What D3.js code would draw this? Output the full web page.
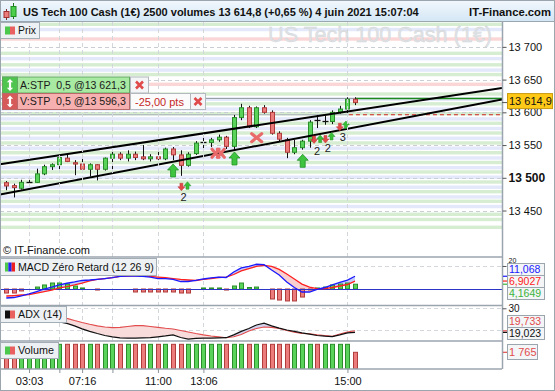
<!DOCTYPE html>
<html><head><meta charset="utf-8">
<script src="https://cdn.jsdelivr.net/npm/d3@7/dist/d3.min.js"></script>
<style>html,body{margin:0;padding:0;background:#fff;overflow:hidden}svg{display:block}</style>
</head><body>
<svg id="chart" width="555" height="391" font-family="'Liberation Sans', Arial, sans-serif"></svg>
<script>
// ---------------- DATA ----------------
const candleOpen  = [13492.5,13488,13484,13493,13493,13506,13517,13520,13530,13523,13521,13513,13520,13513,13530,13536,13530,13536,13532,13529,13532,13529,13544,13535,13519,13537,13554,13554,13558,13562,13548,13592,13607,13578,13607,13600,13568,13558,13539,13546,13556,13588.5,13586,13586,13600,13605,13620];
const candleClose = [13487.5,13485,13493,13494,13506,13517,13520,13531,13525,13521,13513,13520,13513,13530,13536,13530,13536,13531,13529,13532,13529,13544,13535,13519,13536,13553,13555,13558,13562,13548,13592,13607,13578,13607,13600,13568,13559,13539,13546,13556,13585,13588,13587,13600,13605,13620,13614.9];
const candleHigh  = [13495,13491,13497,13497,13514,13520,13522,13535,13535,13527,13535,13522,13521,13531,13542,13539,13542,13540,13550,13536,13542,13546,13547,13542,13539,13556,13561,13561,13566,13564,13596,13613,13610,13609,13611,13603,13571,13561,13558,13558,13588,13596,13595,13603,13610,13623,13623];
const candleLow   = [13481,13470,13482,13490,13492,13504,13512,13513,13524,13504,13512,13502,13496,13511,13508,13527,13525,13527,13527,13525,13527,13527,13527,13503,13517,13535,13545,13547,13555,13544,13542,13588,13576,13576,13598,13566,13555,13530,13536,13543,13546,13576,13581,13582,13598,13595,13611];
const volumes     = [2610,2610,2610,2610,2610,2610,2610,2610,2610,2610,2610,2610,2610,2610,2610,2610,2610,2610,2610,2610,2610,2610,2610,2610,2610,2610,2610,2610,2610,2610,2610,2610,2610,2610,2610,2610,2610,2610,2610,2610,2610,2610,2610,2610,2610,2610,1765];
const macdLine    = [-7.8,-7.4,-6,-4.3,-2.2,0,1.7,3.5,5,6.1,7.4,7.8,8.4,9.1,9.8,10.9,11.3,11.3,10.9,10.4,9.1,9.1,8.3,6.5,6.5,7.4,8.7,9.6,10.4,10,14.8,18.3,19.7,21.5,21.1,16.5,12.2,6.1,1.3,-2.6,-2.6,-0.4,1.3,3.5,5.7,7.8,11.068];
const macdSignal  = [-6.1,-5.7,-5.2,-4.8,-3.5,-2.2,-0.9,0.9,2,3.5,5.2,7,8.3,9.1,9.8,10.9,11.3,11.6,11.3,11,10.4,9.8,9.1,8.3,7.8,7.4,8.3,9.1,10,10.4,12.6,15.7,17.8,19.7,20.6,19.6,17,13,8.7,4.3,1.7,0.3,0.3,1.3,2.6,3.9,6.9027];
const macdHist    = [-3.5,-3.5,-1.7,0,1.7,3.5,5.2,5.2,4.3,2.6,0.9,0,-0.9,0,0,0,0,-2.6,-2.6,-2.6,-2.6,-2.6,-2.6,-3.5,-3.5,0,0.9,0.9,0.9,-0.9,2.6,5.2,1.3,1.7,0,-8.7,-9.6,-10.4,-10.4,-7,-0.9,0.9,1.7,3.5,4.3,5.2,4.1649];
const adxLine     = [29,28.3,27.5,26.8,26,25.3,24.6,23.8,23.1,22,20.6,19.5,18.5,17.6,17,16.5,16.4,16.4,16.5,16.6,17,17.4,17.9,16.7,16,16.3,16.4,16.4,16.5,16.6,17.9,19.5,20.8,22.4,23.2,22,21,20.1,19.5,18.8,18.2,17.6,17.3,17.1,17.9,18.8,19.023];
const adxRed      = [30.5,30,29.5,29,28.4,27.8,27.2,26.5,25.4,24.4,23.5,22.7,22,21.5,21.2,21.3,21.7,22.1,22.1,21.7,21.3,20.9,20.6,19.9,19.2,18.5,17.9,17.4,17,16.6,17,18.1,19.7,20.8,21.5,21.3,20.8,19.9,19.1,18.5,18.4,17.9,17.6,17.2,18.3,19.2,19.733];

const priceTicks  = [13700,13650,13600,13550,13500,13450];
const timeTicks   = [3,7,10,14,20,26,45];
const timeLabels  = ['03:03','','07:16','','11:00','13:06','15:00'];

// background levels (price bands)
const greenLevels = [13734.5,13690.2,13672.6,13657.7,13628,13613,13598,13583.3,13568.4,13553.2,13538.3,13523.4,13508.9,13493.6,13478.8,13464.1,13444.2,13436.3,13424.4];
const blueLevels  = [13726.5,13682,13664.5,13620,13605,13590,13575.3,13560.4,13545.2,13530.3,13515.4,13500.9,13485.6,13470.8,13456.1];
const pinkLevels  = [13712,13642.8];

// trend lines [index, price]
const trendUpper = [[-0.83,13520.6],[65.39,13637.2]];
const trendLower = [[-0.83,13474.5],[65.39,13619.6]];

const orderBuy = 13621.3, orderSell = 13596.3, lastPrice = 13614.9;

const bigUpArrows  = [{i:22,p:13521.1},{i:30.1,p:13539.4},{i:39.1,p:13535.9}];
const bigCrosses   = [{i:27.6,p:13537.4,s:3.5},{i:28.3,p:13537.4,s:3.5},{i:33.03,p:13561.3,s:5}];
const smallDown    = [{i:23.1,p:13491.6},{i:40.6,p:13563.9},{i:42.1,p:13564.6},{i:44,p:13583.3}];
const smallUp      = [{i:23.9,p:13494},{i:41.4,p:13565.4},{i:42.9,p:13569.2},{i:44.8,p:13586.8}];
const signalCounts = [{i:23.4,p:13470.2,t:'2'},{i:41,p:13541.4,t:'2'},{i:42.4,p:13546,t:'2'},{i:44.4,p:13561.9,t:'3'}];

// ---------------- SETUP ----------------
const FONT = "'Liberation Sans', Arial, sans-serif";
const svg = d3.select('#chart');
const PR = 502;
const x  = d3.scaleLinear().domain([-0.83,65.39]).range([0,PR]);
const yP = d3.scaleLinear().domain([13379,13738]).range([257,22]);
const yM = d3.scaleLinear().domain([-13.9,27.8]).range([305,257]);
const yA = d3.scaleLinear().domain([15.1,31.5]).range([341,305]);
const yV = d3.scaleLinear().domain([0,2960]).range([369,341]);
const idx = d3.range(candleOpen.length);
const fmtSp = v => d3.format(',')(v).replace(/,/g,' ');
const GREEN_F='#5ad35a', GREEN_S='#2a8f2a', RED_F='#ec7b7b', RED_S='#b03c3c';
function fit(sel, target, base){ const w = sel.node().getComputedTextLength(); sel.attr('font-size', base*target/w); }

const defs = svg.append('defs');
const hg = defs.append('linearGradient').attr('id','hdr').attr('x1',0).attr('y1',0).attr('x2',0).attr('y2',1);
hg.append('stop').attr('offset','0%').attr('stop-color','#f2f8fd');
hg.append('stop').attr('offset','100%').attr('stop-color','#d3e6f4');
function clip(id,y0,y1){defs.append('clipPath').attr('id',id).append('rect').attr('x',0).attr('y',y0).attr('width',PR).attr('height',y1-y0);}
clip('cMain',22,257); clip('cMacd',257,305); clip('cAdx',305,341); clip('cVol',341,369);

svg.append('rect').attr('width',555).attr('height',391).attr('fill','#fff');

// ---------------- HEADER ----------------
svg.append('rect').attr('x',0).attr('y',0).attr('width',555).attr('height',22).attr('fill','url(#hdr)');
svg.append('line').attr('x1',0).attr('x2',555).attr('y1',21.5).attr('y2',21.5).attr('stroke','#9aa6b0');
const hi = svg.append('g');
hi.append('line').attr('x1',6.5).attr('x2',6.5).attr('y1',9).attr('y2',20).attr('stroke','#7a2a2a');
hi.append('rect').attr('x',4).attr('y',11.5).attr('width',5).attr('height',6).attr('fill',RED_F).attr('stroke','#a03030');
hi.append('line').attr('x1',13.5).attr('x2',13.5).attr('y1',3).attr('y2',19).attr('stroke','#1f6f1f');
hi.append('rect').attr('x',11).attr('y',6.5).attr('width',5).attr('height',10).attr('fill','#4ccf4c').attr('stroke','#1f8f1f');
const title = svg.append('text').attr('x',23).attr('y',16).attr('font-weight','bold').attr('font-size',12).attr('fill','#111')
  .text('US Tech 100 Cash (1€) 2500 volumes 13 614,8 (+0,65 %) 4 juin 2021 15:07:04');
fit(title,396,12);
const brand = svg.append('text').attr('x',551).attr('y',16).attr('text-anchor','end').attr('font-weight','bold').attr('font-size',12).attr('fill','#111').text('IT-Finance.com');
fit(brand,82,12);

// ---------------- MAIN PANEL ----------------
const gm = svg.append('g').attr('clip-path','url(#cMain)');
function band(levels,color){
  gm.append('g').selectAll('rect').data(levels).join('rect')
    .attr('x',0).attr('width',PR).attr('y',d=>yP(d+2.6)).attr('height',d=>yP(d-2.6)-yP(d+2.6)).attr('fill',color);
}
band(greenLevels,'#d6edd2'); band(blueLevels,'#e3e9fa'); band(pinkLevels,'#fbd6d6');
gm.append('g').selectAll('line').data(priceTicks).join('line')
  .attr('x1',0).attr('x2',PR).attr('y1',d=>Math.round(yP(d))+0.5).attr('y2',d=>Math.round(yP(d))+0.5)
  .attr('stroke','#c9ced3').attr('stroke-dasharray','4,3');
const wm = gm.append('text').attr('x',492).attr('y',42).attr('text-anchor','end').attr('font-size',21)
  .attr('fill','#dfe2e5').attr('stroke','#d2d6da').attr('stroke-width',0.4).text('US Tech 100 Cash (1€)');
fit(wm,224,21);

// vertical grid through all panels
svg.append('g').selectAll('line').data(timeTicks).join('line')
  .attr('x1',d=>Math.round(x(d))+0.5).attr('x2',d=>Math.round(x(d))+0.5).attr('y1',22).attr('y2',369)
  .attr('stroke','#d3d7db').attr('stroke-dasharray','4,3');

// order level lines
gm.append('line').attr('x1',0).attr('x2',PR).attr('y1',yP(orderBuy)).attr('y2',yP(orderBuy)).attr('stroke','#8e969d').attr('stroke-width',1);
gm.append('line').attr('x1',0).attr('x2',x(45.2)).attr('y1',yP(orderSell)).attr('y2',yP(orderSell)).attr('stroke','#a9b0b6').attr('stroke-width',1);
gm.append('line').attr('x1',x(46)).attr('x2',PR).attr('y1',yP(orderBuy)).attr('y2',yP(orderBuy)).attr('stroke','#1d8a1d').attr('stroke-width',1.5);
gm.append('line').attr('x1',x(45.2)).attr('x2',PR).attr('y1',yP(orderSell)).attr('y2',yP(orderSell)).attr('stroke','#d02020').attr('stroke-width',1.2).attr('stroke-dasharray','4,3');

// candles
const cg = gm.append('g');
idx.forEach(i=>{
  const o=candleOpen[i], c=candleClose[i], cx=Math.round(x(i))+0.5;
  cg.append('line').attr('x1',cx).attr('x2',cx).attr('y1',yP(candleHigh[i])).attr('y2',yP(candleLow[i])).attr('stroke','#111');
  const top=yP(Math.max(o,c)), bot=yP(Math.min(o,c));
  if (bot-top < 1.2) {
    cg.append('line').attr('x1',cx-3).attr('x2',cx+3).attr('y1',Math.round((top+bot)/2)+0.5).attr('y2',Math.round((top+bot)/2)+0.5).attr('stroke','#111').attr('stroke-width',1.3);
  } else {
    const up = c>=o;
    cg.append('rect').attr('x',cx-2).attr('width',4).attr('y',top).attr('height',bot-top)
      .attr('fill',up?GREEN_F:RED_F).attr('stroke',up?GREEN_S:RED_S).attr('stroke-width',1);
  }
});

// trend lines
const tl = d3.line().x(d=>x(d[0])).y(d=>yP(d[1]));
gm.append('path').attr('d',tl(trendUpper)).attr('stroke','#000').attr('stroke-width',2).attr('fill','none');
gm.append('path').attr('d',tl(trendLower)).attr('stroke','#000').attr('stroke-width',2).attr('fill','none');

// markers
gm.append('g').selectAll('path').data(bigUpArrows).join('path')
  .attr('transform',d=>`translate(${x(d.i)},${yP(d.p)})`)
  .attr('d','M0,0L5.5,6L2.5,6L2.5,13L-2.5,13L-2.5,6L-5.5,6Z')
  .attr('fill','#3fc43f').attr('stroke','#23932a').attr('stroke-width',0.8);
bigCrosses.forEach(d=>{
  const g=gm.append('g').attr('transform',`translate(${x(d.i)},${yP(d.p)})`);
  g.append('path').attr('d',`M${-d.s},${-4}L${d.s},4M${d.s},${-4}L${-d.s},4`).attr('stroke','#e86a6a').attr('stroke-width',3.2).attr('stroke-linecap','round');
});
gm.append('g').selectAll('path').data(smallDown).join('path')
  .attr('transform',d=>`translate(${x(d.i)},${yP(d.p)})`)
  .attr('d','M-1.5,0L1.5,0L1.5,3.5L3.5,3.5L0,7.5L-3.5,3.5L-1.5,3.5Z').attr('fill','#e24a4a').attr('stroke','#c03434').attr('stroke-width',0.5);
gm.append('g').selectAll('path').data(smallUp).join('path')
  .attr('transform',d=>`translate(${x(d.i)},${yP(d.p)})`)
  .attr('d','M0,0L3.5,4L1.5,4L1.5,7.5L-1.5,7.5L-1.5,4L-3.5,4Z').attr('fill','#38c038').attr('stroke','#239323').attr('stroke-width',0.5);
gm.append('g').selectAll('text').data(signalCounts).join('text')
  .attr('x',d=>x(d.i)).attr('y',d=>yP(d.p)).attr('dy','0.35em').attr('text-anchor','middle')
  .attr('font-size',11).attr('fill','#222').text(d=>d.t);

// order boxes
function orderBox(y,h,label,light,dark,stroke){
  const g=svg.append('g');
  g.append('rect').attr('x',2.5).attr('y',y+0.5).attr('width',127).attr('height',h).attr('fill',light).attr('stroke',stroke);
  g.append('rect').attr('x',2.5).attr('y',y+0.5).attr('width',15).attr('height',h).attr('fill',dark).attr('stroke',stroke);
  g.append('path').attr('transform',`translate(10,${y+0.5+h/2})`)
    .attr('d','M0,-6L3.2,-2.8L1.1,-2.8L1.1,2.8L3.2,2.8L0,6L-3.2,2.8L-1.1,2.8L-1.1,-2.8L-3.2,-2.8Z').attr('fill','#fff');
  const t = g.append('text').attr('x',20).attr('y',y+h/2+0.5).attr('dy','0.36em').attr('font-size',11).attr('fill','#1a1a1a')
    .style('white-space','pre').text(label);
  fit(t,106,11);
  return g;
}
function xBtn(x0,y,w,h){
  svg.append('rect').attr('x',x0+0.5).attr('y',y+0.5).attr('width',w).attr('height',h).attr('fill','#f4f5f6').attr('stroke','#b3b9be');
  const cx=x0+0.5+w/2, cy=y+0.5+h/2;
  svg.append('path').attr('d',`M${cx-3.5},${cy-3.5}L${cx+3.5},${cy+3.5}M${cx+3.5},${cy-3.5}L${cx-3.5},${cy+3.5}`)
    .attr('stroke','#e04a4a').attr('stroke-width',2.6);
}
orderBox(76.5,16,'A:STP  0,5 @13 621,3','#a9eaa3','#4fc44f','#62a862');
xBtn(130,76.5,18,16);
svg.append('rect').attr('x',130.5).attr('y',93.5).attr('width',60).attr('height',16).attr('fill','#fbfbfb').attr('stroke','#b3b9be');
svg.append('text').attr('x',135).attr('y',102).attr('dy','0.36em').attr('font-size',11).attr('fill','#c62828').text('-25,00 pts');
xBtn(190,93,15,16);
orderBox(93,16,'V:STP  0,5 @13 596,3','#f7b0b0','#d65a5a','#b86a6a');

// © text
svg.append('text').attr('x',3).attr('y',254).attr('font-size',11).attr('fill','#111').text('© IT-Finance.com');

// ---------------- MACD ----------------
const gM = svg.append('g').attr('clip-path','url(#cMacd)');
gM.append('line').attr('x1',0).attr('x2',PR).attr('y1',Math.round(yM(20))+0.5).attr('y2',Math.round(yM(20))+0.5).attr('stroke','#d3d7db').attr('stroke-dasharray','4,3');
const mdat = idx.map(i=>({i,m:macdLine[i],s:macdSignal[i]}));
defs.append('clipPath').attr('id','mAbove').append('path').attr('d',d3.area().x(d=>x(d.i)).y0(257).y1(d=>yM(d.s))(mdat));
defs.append('clipPath').attr('id','mBelow').append('path').attr('d',d3.area().x(d=>x(d.i)).y0(305).y1(d=>yM(d.s))(mdat));
const mArea = d3.area().x(d=>x(d.i)).y0(d=>yM(d.s)).y1(d=>yM(d.m));
gM.append('g').attr('clip-path','url(#mAbove)').append('path').attr('d',mArea(mdat)).attr('fill','#c5cbfa');
gM.append('g').attr('clip-path','url(#mBelow)').append('path').attr('d',mArea(mdat)).attr('fill','#f9d0d0');
idx.forEach(i=>{
  const v=macdHist[i]; if (v===0) return;
  const cx=Math.round(x(i))+0.5, y0=yM(0), y1=yM(v);
  gM.append('rect').attr('x',cx-2).attr('width',4).attr('y',Math.min(y0,y1)).attr('height',Math.abs(y1-y0))
    .attr('fill',v>0?GREEN_F:RED_F).attr('stroke',v>0?GREEN_S:RED_S);
});
gM.append('line').attr('x1',0).attr('x2',PR).attr('y1',Math.round(yM(0))+0.5).attr('y2',Math.round(yM(0))+0.5).attr('stroke','#2a35c8').attr('stroke-width',1.2);
gM.append('path').attr('d',d3.line().x(d=>x(d.i)).y(d=>yM(d.s))(mdat)).attr('fill','none').attr('stroke','#ff2020').attr('stroke-width',1.3);
gM.append('path').attr('d',d3.line().x(d=>x(d.i)).y(d=>yM(d.m))(mdat)).attr('fill','none').attr('stroke','#1a1aff').attr('stroke-width',1.3);

// ---------------- ADX ----------------
const gA = svg.append('g').attr('clip-path','url(#cAdx)');
[20,30].forEach(v=>gA.append('line').attr('x1',0).attr('x2',PR).attr('y1',Math.round(yA(v))+0.5).attr('y2',Math.round(yA(v))+0.5).attr('stroke','#d3d7db').attr('stroke-dasharray','4,3'));
const adat = idx.map(i=>({i,a:adxLine[i],r:adxRed[i]}));
defs.append('clipPath').attr('id','aAbove').append('path').attr('d',d3.area().x(d=>x(d.i)).y0(305).y1(d=>yA(d.r))(adat));
defs.append('clipPath').attr('id','aBelow').append('path').attr('d',d3.area().x(d=>x(d.i)).y0(341).y1(d=>yA(d.r))(adat));
const aArea = d3.area().x(d=>x(d.i)).y0(d=>yA(d.r)).y1(d=>yA(d.a));
gA.append('g').attr('clip-path','url(#aAbove)').append('path').attr('d',aArea(adat)).attr('fill','#d3d3ee');
gA.append('g').attr('clip-path','url(#aBelow)').append('path').attr('d',aArea(adat)).attr('fill','#f8dcdc');
gA.append('path').attr('d',d3.line().x(d=>x(d.i)).y(d=>yA(d.r))(adat)).attr('fill','none').attr('stroke','#e24c4c').attr('stroke-width',1.1);
gA.append('path').attr('d',d3.line().x(d=>x(d.i)).y(d=>yA(d.a))(adat)).attr('fill','none').attr('stroke','#111').attr('stroke-width',1.2);

// ---------------- VOLUME ----------------
const gV = svg.append('g').attr('clip-path','url(#cVol)');
idx.forEach(i=>{
  const up = candleClose[i]>=candleOpen[i], cx=Math.round(x(i))+0.5;
  gV.append('rect').attr('x',cx-2).attr('width',4).attr('y',yV(volumes[i])).attr('height',yV(0)-yV(volumes[i]))
    .attr('fill',up?GREEN_F:RED_F).attr('stroke',up?GREEN_S:RED_S);
});

// ---------------- SEPARATORS / BORDERS ----------------
[257,305.5,341,369].forEach(y=>svg.append('line').attr('x1',0).attr('x2',PR).attr('y1',y).attr('y2',y).attr('stroke','#9ba5ae').attr('stroke-width',1.5));
svg.append('line').attr('x1',PR+0.5).attr('x2',PR+0.5).attr('y1',22).attr('y2',369).attr('stroke','#9ba5ae').attr('stroke-width',1.5);
svg.append('rect').attr('x',0.5).attr('y',0.5).attr('width',554).attr('height',390).attr('fill','none').attr('stroke','#9ba5ae');

// ---------------- AXES ----------------
const ax = svg.append('g').attr('transform',`translate(${PR+0.5},0)`)
  .call(d3.axisRight(yP).tickValues(priceTicks).tickSize(4).tickPadding(2).tickFormat(fmtSp));
ax.select('.domain').remove();
ax.selectAll('text').attr('font-family',FONT).attr('fill','#111')
  .attr('font-weight',d=>d===13500?'bold':'normal').attr('font-size',d=>d===13500?12:11);
ax.selectAll('line').attr('stroke','#555');

const tx = svg.append('g').attr('transform','translate(0,369)')
  .call(d3.axisBottom(x).tickValues(timeTicks).tickSize(4).tickPadding(4).tickFormat((d,k)=>timeLabels[k]));
tx.select('.domain').remove();
tx.selectAll('text').attr('font-size',11).attr('font-family',FONT).attr('fill','#111');
tx.selectAll('line').attr('stroke','#8a939b');

// current price
svg.append('line').attr('x1',PR).attr('x2',PR+5).attr('y1',yP(lastPrice)).attr('y2',yP(lastPrice)).attr('stroke','#555');
svg.append('rect').attr('x',507.5).attr('y',yP(lastPrice)-9).attr('width',45).attr('height',15).attr('fill','#ffc917').attr('stroke','#c99a10');
svg.append('text').attr('x',509).attr('y',yP(lastPrice)-1.5).attr('dy','0.36em').attr('font-size',11).attr('fill','#111').text('13 614,9');

// MACD right labels
const mAx = svg.append('g').attr('transform',`translate(${PR+0.5},0)`)
  .call(d3.axisRight(yM).tickValues([20]).tickSize(4).tickPadding(2));
mAx.select('.domain').remove();
mAx.selectAll('text').attr('font-size',7).attr('font-family',FONT).attr('fill','#111')
  .attr('dy',null).attr('y',0).attr('transform',`translate(0,${263 - yM(20) - 0.5})`);
mAx.selectAll('line').attr('stroke','#555');
function valBox(v,scale,text,color,y,h){
  svg.append('line').attr('x1',PR+1).attr('x2',PR+5).attr('y1',scale(v)).attr('y2',scale(v)).attr('stroke',color).attr('stroke-width',1.2);
  svg.append('rect').attr('x',507.5).attr('y',y).attr('width',37).attr('height',h).attr('fill','#f3f5f7').attr('stroke','#9ba5ae');
  svg.append('text').attr('x',509).attr('y',y+h/2).attr('dy','0.35em').attr('font-size',10.5).attr('fill',color).text(text);
}
valBox(macdLine[46],yM,'11,068','#1a1aff',263.5,12);
valBox(macdSignal[46],yM,'6,9027','#ff2020',275.5,12);
valBox(macdHist[46],yM,'4,1649','#3bb33b',287.5,12);

// ADX right labels
const aAx = svg.append('g').attr('transform',`translate(${PR+0.5},0)`)
  .call(d3.axisRight(yA).tickValues([30]).tickSize(4).tickPadding(2));
aAx.select('.domain').remove();
aAx.selectAll('text').attr('font-size',10).attr('font-family',FONT).attr('fill','#111').attr('dy','0.3em');
aAx.selectAll('line').attr('stroke','#555');
valBox(adxRed[46],yA,'19,733','#e24c4c',315.5,12);
valBox(adxLine[46],yA,'19,023','#111',327.5,12);

// Volume label
svg.append('line').attr('x1',PR+1).attr('x2',PR+5).attr('y1',yV(volumes[46])).attr('y2',yV(volumes[46])).attr('stroke','#e24c4c').attr('stroke-width',1.2);
svg.append('rect').attr('x',507.5).attr('y',344.5).attr('width',30).attr('height',15).attr('fill','#f3f5f7').attr('stroke','#9ba5ae');
svg.append('text').attr('x',509).attr('y',352).attr('dy','0.35em').attr('font-size',11).attr('fill','#e24c4c').text('1 765');

// ---------------- LEGENDS ----------------
function legend(y,w,h,label,colors,tw){
  const g=svg.append('g');
  g.append('rect').attr('x',0.5).attr('y',y+0.5).attr('width',w).attr('height',h).attr('fill','#eef1f4').attr('stroke','#a4aeb7');
  const iw=10/colors.length;
  colors.forEach((c,k)=>g.append('rect').attr('x',5+k*iw).attr('y',y+4.5).attr('width',iw).attr('height',h-8).attr('fill',c));
  const t=g.append('text').attr('x',18).attr('y',y+h/2+0.5).attr('dy','0.36em').attr('font-size',11.5).attr('fill','#111').text(label);
  fit(t,tw,11.5);
}
legend(22,39,16,'Prix',['#4cc84c','#e86060'],18);
legend(258,156,17,'MACD Zéro Retard (12 26 9)',['#4cc84c','#2222ee','#ee2222'],136);
legend(306,66,16,'ADX (14)',['#111','#e86060'],44);
legend(342,58,16,'Volume',['#4cc84c','#e86060'],36);
</script>
</body></html>
